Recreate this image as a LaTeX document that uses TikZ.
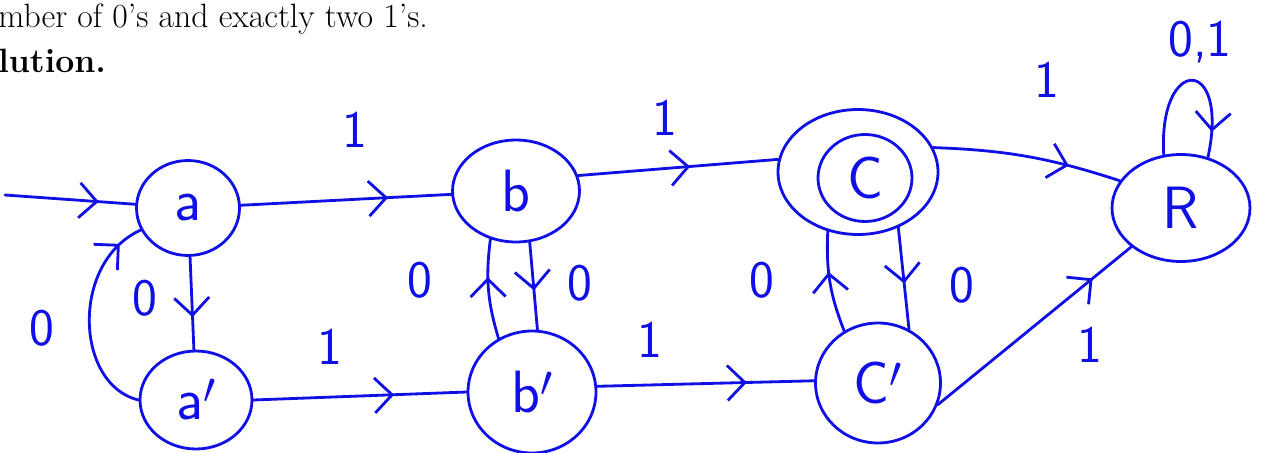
\documentclass[tikz,border=0pt]{standalone}
\usetikzlibrary{shapes.geometric,arrows.meta,decorations.markings}
\definecolor{hand}{RGB}{15,15,230}
\tikzset{
  state/.style={ellipse, draw=hand, line width=1.6pt, minimum width=2.5cm, minimum height=2.2cm,
    inner sep=0pt, text=hand, font=\sffamily\fontsize{34}{38}\selectfont},
  wire/.style={draw=hand, line width=1.6pt, line cap=round},
  midarrow/.style={postaction={decorate}, decoration={markings,
    mark=at position #1 with {\arrow[hand, line width=1.6pt]{Straight Barb[length=3.5mm, width=7mm]}}}},
  sym/.style={text=hand, font=\sffamily\fontsize{30}{34}\selectfont, inner sep=1pt},
}

\begin{document}
\begin{tikzpicture}[x=0.02cm, y=-0.02cm]
  \useasboundingbox (0,0) rectangle (1261,453);
  \node[anchor=base west, inner sep=0pt, font=\fontsize{19.2}{23}\selectfont] (line1) at (-2,28) {mber of 0's and exactly two 1's.};
  \node[anchor=base west, inner sep=0pt, font=\fontsize{19.2}{23}\selectfont\bfseries] (line2) at (-2,72) {lution.};

  % states
  \node[state, minimum width=2.06cm, minimum height=1.9cm] (a) at (188,208) {a};
  \node[state, minimum width=2.24cm, minimum height=1.96cm] (a') at (196,400) {a$'$};
  \node[state, minimum width=2.54cm, minimum height=2.04cm] (b) at (516,191) {b};
  \node[state, minimum width=2.56cm, minimum height=2.44cm] (b') at (532,392) {b$'$};
  \node[state, minimum width=3.2cm, minimum height=2.5cm] (c) at (858,172) {};
  \node[state, minimum width=1.88cm, minimum height=1.74cm] (cin) at (865,178) {C};
  \node[state, minimum width=2.5cm, minimum height=2.4cm] (c') at (878,383) {C$'$};
  \node[state, minimum width=2.76cm, minimum height=2.14cm] (R) at (1181,208) {R};
  \coordinate (start) at (5,195);

  % transitions
  \draw[wire, midarrow=0.72] (start) -- (a);
  \draw[wire, midarrow=0.7] (a) -- (b);
  \draw[wire, midarrow=0.65] (a) -- (a');
  \draw[wire, midarrow=0.88] (a'.west) .. controls (75,385) and (70,262) .. (a.205);
  \draw[wire, midarrow=0.66] (a'.east) -- (b'.west);
  \draw[wire, midarrow=0.55] (b.-75) -- (b'.85);
  \draw[wire, midarrow=0.62] (b'.122) to[bend left=12] (b.-118);
  \draw[wire, midarrow=0.56] (b.14) -- (c.171);
  \draw[wire, midarrow=0.69] (b'.5) -- (c'.178);
  \draw[wire, midarrow=0.55] (c.-54) -- (c'.60);
  \draw[wire, midarrow=0.6] (c'.123) to[bend left=12] (c.-117);
  \draw[wire, midarrow=0.72] (c.18) to[bend left=8] (R.156);
  \draw[wire, midarrow=0.8] (c'.-20) -- (R.-142);
  \draw[wire, midarrow=0.85] (R.108) .. controls (1158,55) and (1230,55) .. (R.62);

  % labels
  \foreach[count=\i] \x/\y/\t in {355/130/1, 665/118/1, 1047/80/1, 330/347/1, 650/340/1, 1090/345/1,
      145/298/0, 42/328/0, 420/280/0, 580/283/0, 762/280/0, 962/285/0, 1200/42/{0,1}} {
    \node[sym] (l\i) at (\x,\y) {\t};
  }
\end{tikzpicture}
\end{document}
